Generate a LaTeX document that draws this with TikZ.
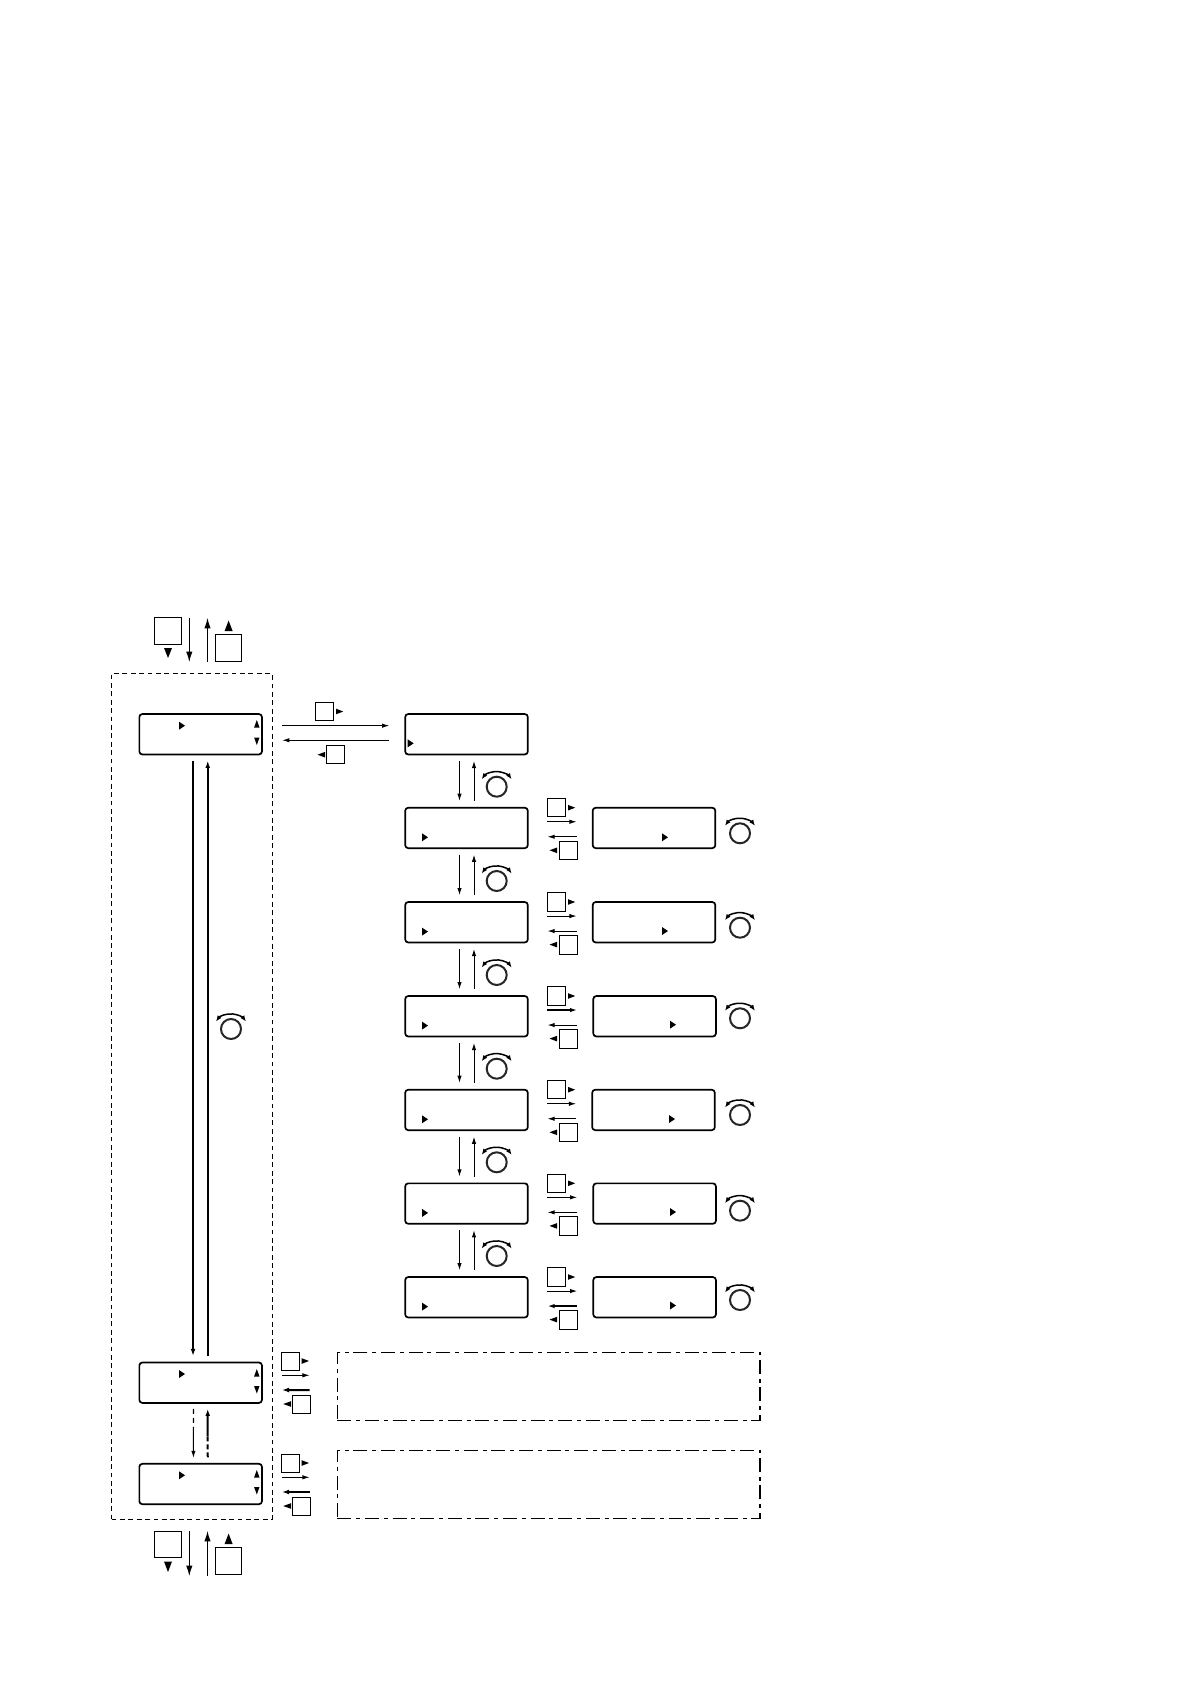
\documentclass[tikz,border=0pt]{standalone}
\usetikzlibrary{arrows.meta}
\tikzset{
  lcd/.style={draw=black,line width=0.85pt,rounded corners=1.5pt,minimum width=61.3pt,minimum height=20.2pt,inner sep=0pt},
  sqs/.style={draw=black,line width=0.5pt,minimum size=9.2pt,inner sep=0pt},
  sqb/.style={draw=black,line width=0.55pt,minimum size=13.4pt,inner sep=0pt},
  arr/.style={line width=0.5pt,-{Latex[length=3.6pt,width=2.2pt]}},
  arrb/.style={line width=0.55pt,-{Latex[length=5.2pt,width=3.2pt]}},
  arrthick/.style={line width=1pt,-{Latex[length=3.6pt,width=2.4pt]}},
  longarr/.style={line width=0.85pt,-{Latex[length=3.6pt,width=2.4pt]}},
  outer/.style={draw=black,line width=0.5pt,dash pattern=on 2.4pt off 1.8pt},
  dashdot/.style={draw=black,line width=0.55pt,dash pattern=on 7pt off 2.4pt on 2pt off 2.4pt,inner sep=0pt},
  knobarc/.style={line width=0.75pt,{Latex[length=3pt,width=2.4pt]}-{Latex[length=3pt,width=2.4pt]}},
}
% horizontal triangle: base at x, apex at x+dx, half height h
\newcommand{\htri}[4]{\fill (#1,#2-#4) -- (#1+#3,#2) -- (#1,#2+#4) -- cycle;}
% vertical triangle: base at y, apex at y+dy
\newcommand{\vtri}[4]{\fill (#1-#4,#2) -- (#1,#2+#3) -- (#1+#4,#2) -- cycle;}
\newcommand{\knob}[2]{%
  \draw[line width=1pt,black!85] (#1,#2) circle[radius=5pt];
  \draw[knobarc] (#1-15,#2-7.5) arc[start angle=144,end angle=36,radius=9.25pt];
}
\begin{document}
\begin{tikzpicture}[x=0.5pt,y=-0.5pt]
\useasboundingbox (0,0) rectangle (1190,1684);
% outer dashed frame
\node[outer,minimum width=80.25pt,minimum height=422.75pt,inner sep=0pt] (frame) at (191.75,1096.25) {};
% main column boxes
\node[lcd] (A0) at (200.65,734.25) {};
\node[lcd] (A1) at (200.65,1382.7) {};
\node[lcd] (A2) at (200.65,1484) {};
\htri{179}{725.7}{6}{4}
\htri{179}{1374}{6}{4}
\htri{179}{1475.3}{6}{4}
\vtri{256.8}{727.5}{-7.5}{2.7}
\vtri{256.8}{737.5}{7.5}{2.7}
\vtri{256.8}{1376.5}{-7.5}{2.7}
\vtri{256.8}{1386}{7.5}{2.7}
\vtri{256.8}{1477.5}{-7.5}{2.7}
\vtri{256.8}{1487}{7.5}{2.7}
% long connectors
\draw[longarr] ([xshift=-3.8pt,yshift=-2.7pt]A0.south) -- ([xshift=-3.8pt,yshift=2.8pt]A1.north);
\draw[longarr] ([xshift=3.55pt,yshift=2.8pt]A1.north) -- ([xshift=3.55pt,yshift=-2.7pt]A0.south);
\knob{231}{1029}
% between A1 and A2
\coordinate (dmid) at (193.4,1428);
\coordinate (umid) at (207.7,1436);
\draw[line width=0.6pt,dash pattern=on 2.5pt off 2pt] ([xshift=-3.6pt,yshift=-2.6pt]A1.south) -- (dmid);
\draw[arr] (dmid) -- ([xshift=-3.6pt,yshift=2.5pt]A2.north);
\draw[line width=1pt,dash pattern=on 2.5pt off 1.5pt] ([xshift=3.55pt,yshift=2.8pt]A2.north) -- (umid);
\draw[arrthick] (umid) -- ([xshift=3.55pt,yshift=-2.5pt]A1.south);
% top key pair
\node[sqb] (kt1) at (167.9,630.9) {};
\node[sqb] (kt2) at (228.5,647.8) {};
\vtri{168}{648}{10}{4}
\vtri{228.6}{631}{-10.5}{4}
\coordinate (t1a) at (189.3,618);
\coordinate (t1b) at (189.3,662);
\coordinate (t2a) at (207.5,662);
\coordinate (t2b) at (207.5,618);
\draw[arrb] (t1a) -- (t1b);
\draw[arrb] (t2a) -- (t2b);
% bottom key pair
\node[sqb] (kb1) at (167.9,1544.5) {};
\node[sqb] (kb2) at (228.5,1561.3) {};
\vtri{168}{1561.5}{10.5}{4}
\vtri{228.6}{1544}{-10.5}{4}
\coordinate (b1a) at (189.3,1531);
\coordinate (b1b) at (189.3,1576);
\coordinate (b2a) at (207.5,1576);
\coordinate (b2b) at (207.5,1531);
\draw[arrb] (b1a) -- (b1b);
\draw[arrb] (b2a) -- (b2b);
% second column head box
\node[lcd] (M0) at (466.5,734.25) {};
\htri{407.7}{743.3}{6}{4}
\node[sqs] (k01) at (324.5,711.7) {};
\node[sqs] (k02) at (335.5,754.4) {};
\htri{336}{711.5}{7.2}{2.8}
\htri{325}{754.7}{-7.5}{2.8}
\draw[arr] ([xshift=9.7pt,yshift=4.3pt]A0.east) -- ([xshift=-7.5pt,yshift=4.3pt]M0.west);
\draw[arr] ([xshift=-7.5pt,yshift=-3pt]M0.west) -- ([xshift=9.7pt,yshift=-3pt]A0.east);
% rows: index / top y / right box centre x / right pointer x / right pointer y / row knob y / right-arrow width / left-arrow width
\foreach \i/\t/\rx/\px/\py/\ky/\rw/\lw in {
  1/807.7/654/662/837.3/833.3/0.5/0.5,
  2/902/654/662/931/927.7/0.5/0.5,
  3/996/654.6/670/1024.7/1018.3/1.1/0.5,
  4/1089.7/653.5/669/1119/1115/0.5/0.5,
  5/1183.3/654.6/670/1212/1210.7/0.5/0.5,
  6/1277/654.6/670/1305.5/1300/0.5/1.1}{
  \node[lcd] (M\i) at (466.5,\t+20.25) {};
  \node[lcd] (R\i) at (\rx,\t+20.25) {};
  \htri{422}{\t+29.6}{6}{4}
  \htri{\px}{\py}{6}{4}
  \knob{740}{\ky}
  \knob{496.7}{\t-21}
  \node[sqs] (ku\i) at (556.5,\t) {};
  \node[sqs] (kd\i) at (568.2,\t+42.8) {};
  \htri{568}{\t}{7.2}{2.8}
  \htri{557}{\t+42.6}{-7.5}{2.8}
  \draw[arr,line width=\rw pt] ([xshift=9.4pt,yshift=3.1pt]M\i.east) -- ([xshift=-7.6pt,yshift=3.1pt]R\i.west);
  \draw[arr,line width=\lw pt] ([xshift=-7.6pt,yshift=-4.4pt]R\i.west) -- ([xshift=9.4pt,yshift=-4.4pt]M\i.east);
}
% vertical connectors in the second column
\foreach \a/\b in {0/1,1/2,2/3,3/4,4/5,5/6}{
  \draw[arr] ([xshift=-3.5pt,yshift=-2.8pt]M\a.south) -- ([xshift=-3.5pt,yshift=3pt]M\b.north);
  \draw[arr] ([xshift=3.75pt,yshift=3pt]M\b.north) -- ([xshift=3.75pt,yshift=-2.8pt]M\a.south);
}
% dash-dot regions
\node[dashdot,minimum width=211.3pt,minimum height=34pt] (D1) at (548.7,1386.3) {};
\node[dashdot,minimum width=211.3pt,minimum height=34pt] (D2) at (548.7,1484.3) {};
\node[sqs] (ks1) at (290.5,1361.5) {};
\node[sqs] (ks2) at (301.5,1404.4) {};
\htri{301.7}{1361}{7.3}{2.8}
\htri{291}{1404}{-7.8}{2.8}
\draw[arr] ([xshift=9.5pt,yshift=3.7pt]A1.east) -- ([xshift=-13.6pt,yshift=5.5pt]D1.west);
\draw[arrthick] ([xshift=-13.6pt,yshift=-1.85pt]D1.west) -- ([xshift=9.5pt,yshift=-3.65pt]A1.east);
\node[sqs] (ks3) at (290.5,1463.5) {};
\node[sqs] (ks4) at (301.5,1506.4) {};
\htri{301.7}{1463}{7.3}{2.8}
\htri{291}{1506}{-7.8}{2.8}
\draw[arr] ([xshift=9.5pt,yshift=3.35pt]A2.east) -- ([xshift=-13.6pt,yshift=3.5pt]D2.west);
\draw[arrthick] ([xshift=-13.6pt,yshift=-3.85pt]D2.west) -- ([xshift=9.5pt,yshift=-4pt]A2.east);
\end{tikzpicture}
\end{document}
